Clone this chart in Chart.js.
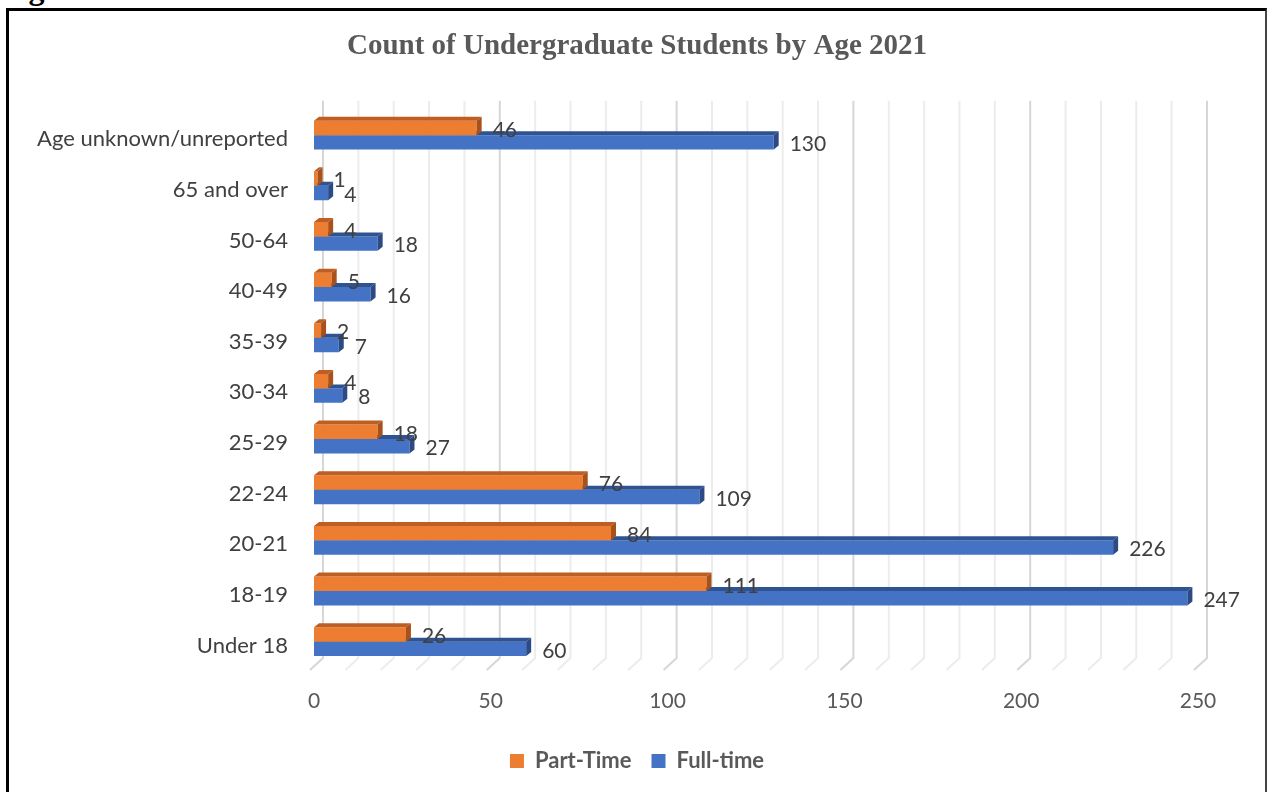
<!DOCTYPE html>
<html>
<head>
<meta charset="utf-8">
<script src="https://cdn.jsdelivr.net/npm/chart.js@4.4.1/dist/chart.umd.min.js"></script>
<style>
  html, body { margin: 0; padding: 0; background: #fff; overflow: hidden; }
  #wrap { position: absolute; left: 0; top: 0; width: 1268px; height: 792px; }
  #frame {
    position: absolute; left: 6px; top: 8px; width: 1256px; height: 800px;
    border-left: 3px solid #000; border-top: 3px solid #000; border-right: 2px solid #444;
    pointer-events: none;
  }
  #fig {
    position: absolute; left: 0; top: -28px; font: bold 32px "Liberation Serif", serif;
    line-height: 1; color: #000;
  }
</style>
</head>
<body>
<div id="fig">Fig.3.5:</div>
<div id="wrap"><canvas id="ageChart"></canvas></div>
<div id="frame"></div>
<script>
  const categories = ["Under 18", "18-19", "20-21", "22-24", "25-29", "30-34", "35-39", "40-49", "50-64", "65 and over", "Age unknown/unreported"];
  const partTime = [26, 111, 84, 76, 18, 4, 2, 5, 4, 1, 46];
  const fullTime = [60, 247, 226, 109, 27, 8, 7, 16, 18, 4, 130];
  const axisMax = 250;
  const axisStep = 50;
  const gridStep = 10;

  const font = "Lato";
  const depth = { x: 5, y: 4 };      // bar extrusion
  const wall = { x: 9, y: 9 };       // back wall offset
  const floorFront = { x: -4, y: 3 };

  // back wall lines + floor diagonals
  const perspectiveGrid = {
    id: "perspectiveGrid",
    beforeDatasetsDraw(chart) {
      const { ctx, chartArea, scales } = chart;
      const xs = scales.x;
      ctx.save();
      for (let v = 0; v <= axisMax; v += gridStep) {
        const px = xs.getPixelForValue(v);
        const major = v % axisStep === 0;
        ctx.strokeStyle = major ? "#d6d6d6" : "#ececec";
        ctx.lineWidth = 2;
        ctx.beginPath();
        ctx.moveTo(px + wall.x, chartArea.top - wall.y);
        ctx.lineTo(px + wall.x, chartArea.bottom - wall.y);
        ctx.lineTo(px + floorFront.x, chartArea.bottom + floorFront.y);
        ctx.stroke();
      }
      ctx.restore();
    }
  };

  // top and right faces for each bar
  const barFaces = {
    id: "barFaces",
    afterDatasetDraw(chart, args) {
      const { ctx } = chart;
      const ds = chart.data.datasets[args.index];
      ctx.save();
      args.meta.data.forEach(bar => {
        const { x, y, base, height } = bar.getProps(["x", "y", "base", "height"], true);
        const top = y - height / 2;
        const bottom = y + height / 2;
        ctx.fillStyle = ds.topColor;
        ctx.beginPath();
        ctx.moveTo(base, top);
        ctx.lineTo(base + depth.x, top - depth.y);
        ctx.lineTo(x + depth.x, top - depth.y);
        ctx.lineTo(x, top);
        ctx.closePath();
        ctx.fill();
        ctx.fillStyle = ds.sideColor;
        ctx.beginPath();
        ctx.moveTo(x, top);
        ctx.lineTo(x + depth.x, top - depth.y);
        ctx.lineTo(x + depth.x, bottom - depth.y);
        ctx.lineTo(x, bottom);
        ctx.closePath();
        ctx.fill();
      });
      ctx.restore();
    }
  };

  const valueLabels = {
    id: "valueLabels",
    afterDatasetsDraw(chart) {
      const { ctx } = chart;
      ctx.save();
      ctx.font = "21px " + font;
      ctx.fillStyle = "#404040";
      ctx.textAlign = "left";
      ctx.textBaseline = "middle";
      chart.data.datasets.forEach((ds, i) => {
        chart.getDatasetMeta(i).data.forEach((bar, j) => {
          ctx.fillText(ds.data[j], bar.x + 16, bar.y + 2);
        });
      });
      ctx.restore();
    }
  };

  new Chart(document.getElementById("ageChart"), {
    type: "bar",
    data: {
      labels: categories,
      datasets: [
        {
          label: "Part-Time",
          data: partTime,
          backgroundColor: "#ED7D31",
          topColor: "#BF5E22",
          sideColor: "#A9511A",
          borderWidth: 0
        },
        {
          label: "Full-time",
          data: fullTime,
          backgroundColor: "#4472C4",
          topColor: "#2F5291",
          sideColor: "#2B4A86",
          borderWidth: 0
        }
      ]
    },
    plugins: [perspectiveGrid, barFaces, valueLabels],
    options: {
      indexAxis: "y",
      responsive: true,
      maintainAspectRatio: false,
      animation: false,
      categoryPercentage: 0.57,
      barPercentage: 1,
      layout: { padding: { left: 20, right: 14, top: 0, bottom: 10 } },
      scales: {
        x: {
          min: 0,
          max: axisMax,
          ticks: { stepSize: axisStep, color: "#595959", font: { family: font, size: 21 }, padding: 22 },
          grid: { display: false, drawTicks: false },
          border: { display: false },
          afterFit(scale) { scale.height = 63; }
        },
        y: {
          reverse: true,
          ticks: { color: "#404040", font: { family: font, size: 22 }, padding: 26, labelOffset: 4 },
          grid: { display: false, drawTicks: false },
          border: { display: false },
          afterFit(scale) { scale.width = 294; }
        },
        // empty margin on the right so title and legend sit over the whole frame
        spacer: {
          type: "category",
          axis: "y",
          position: "right",
          ticks: { display: false },
          grid: { display: false, drawTicks: false },
          border: { display: false },
          afterFit(scale) { scale.width = 56; }
        }
      },
      plugins: {
        title: {
          display: true,
          text: "Count of Undergraduate Students by Age 2021",
          color: "#595959",
          font: { family: "Liberation Serif", size: 29, weight: "bold" },
          padding: { top: 29, bottom: 46 }
        },
        legend: {
          position: "bottom",
          labels: {
            boxWidth: 14,
            boxHeight: 14,
            padding: 20,
            color: "#595959",
            font: { family: font, size: 22, weight: "bold" }
          }
        },
        tooltip: { enabled: false }
      }
    }
  });
</script>
</body>
</html>
